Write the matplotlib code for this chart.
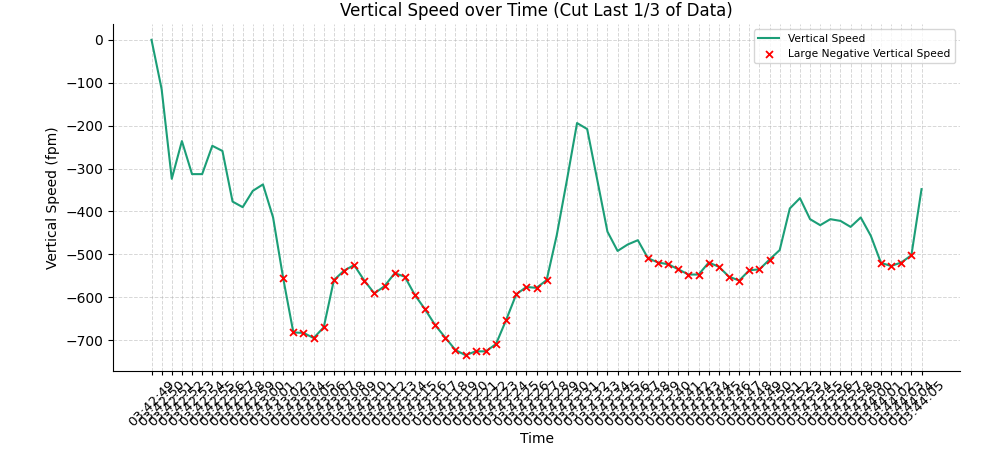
import numpy as np
import matplotlib
matplotlib.use("Agg")
import matplotlib.pyplot as plt
from datetime import datetime, timedelta

# time stamps, one per second from 03:42:49 to 03:44:05
start = datetime(2000, 1, 1, 3, 42, 49)
times = [(start + timedelta(seconds=i)).strftime("%H:%M:%S") for i in range(77)]

vertical_speed = [
    0, -115, -324, -236, -313, -313, -247, -259, -377, -390,
    -352, -337, -414, -556, -682, -683, -695, -670, -560, -538,
    -525, -561, -591, -574, -544, -552, -595, -628, -665, -694,
    -723, -735, -726, -726, -709, -653, -593, -576, -578, -560,
    -455, -327, -194, -208, -327, -447, -492, -477, -467, -509,
    -519, -523, -535, -547, -547, -519, -529, -552, -561, -537,
    -535, -512, -490, -393, -369, -418, -432, -418, -422, -436,
    -414, -457, -520, -527, -519, -502, -348,
]
threshold = -500

vs = np.array(vertical_speed)
x = np.arange(len(vs))
mask = vs < threshold

fig = plt.figure(figsize=(9.93, 4.5), dpi=100)
ax = fig.add_axes([0.1138, 0.1756, 0.853, 0.771])

ax.plot(x, vs, color="#1b9e77", linewidth=1.5, label="Vertical Speed")
ax.scatter(x[mask], vs[mask], color="red", marker="x", s=25, linewidths=1.3,
           label="Large Negative Vertical Speed", zorder=3)

ax.set_xticks(x)
ax.set_xticklabels(times, rotation=45, fontsize=9.5)
ax.tick_params(axis="x", length=3, pad=2)
ax.set_title("Vertical Speed over Time (Cut Last 1/3 of Data)", fontsize=12)
ax.set_xlabel("Time", labelpad=2)
ax.set_ylabel("Vertical Speed (fpm)")
ax.grid(True, linestyle="--", alpha=0.5, linewidth=0.7)
ax.spines["top"].set_visible(False)
ax.spines["right"].set_visible(False)
ax.legend(loc="upper right", fontsize=7.7)

fig.savefig("out.png", dpi=100)
